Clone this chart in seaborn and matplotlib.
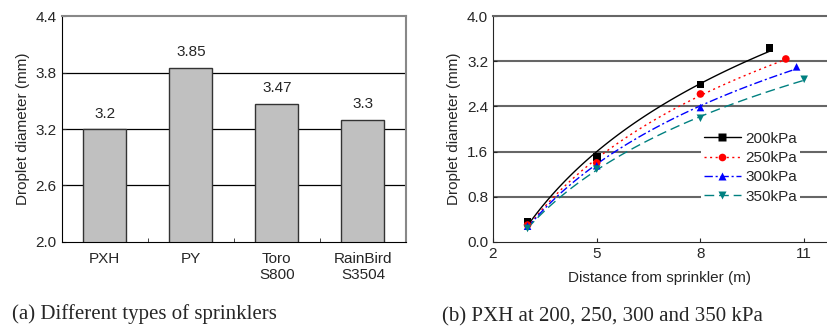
import numpy as np
import pandas as pd
import matplotlib
matplotlib.use("Agg")
import matplotlib.pyplot as plt
import seaborn as sns

# (a) 스프링클러 종류별 평균 물방울 직경
sprinklers = ["PXH", "PY", "Toro\nS800", "RainBird\nS3504"]
diameters = [3.2, 3.85, 3.47, 3.3]

# (b) PXH 압력별 거리-직경
pressures = ["200kPa", "250kPa", "300kPa", "350kPa"]
dist_200 = [3, 5, 8, 10]
diam_200 = [0.35, 1.50, 2.79, 3.43]
dist_250 = [3, 5, 8, 10.47]
diam_250 = [0.30, 1.40, 2.62, 3.24]
dist_300 = [3, 5, 8, 10.78]
diam_300 = [0.28, 1.35, 2.38, 3.10]
dist_350 = [3, 5, 8, 11.0]
diam_350 = [0.24, 1.29, 2.19, 2.88]

sns.set_style("ticks")
plt.rcParams['font.family'] = ['Liberation Sans', 'DejaVu Sans']
plt.rcParams['font.size'] = 11

fig = plt.figure(figsize=(8.27, 3.27), dpi=100)
ax1 = fig.add_axes([0.0746, 0.26, 0.4163, 0.691])
ax2 = fig.add_axes([0.5961, 0.26, 0.4039, 0.691])

# ---- 왼쪽 막대그래프
df_a = pd.DataFrame({"sprinkler": sprinklers, "diameter": diameters})
for y in [2.6, 3.2, 3.8]:
    ax1.axhline(y, color="black", lw=0.9, zorder=0)
sns.barplot(data=df_a, x="sprinkler", y="diameter", color="#c0c0c0",
            edgecolor="#333333", linewidth=1.0, width=0.5, saturation=1,
            ax=ax1, zorder=2)
ax1.bar_label(ax1.containers[0], labels=[f"{v:g}" for v in diameters],
              padding=6, fontsize=11)
ax1.set_xlim(-0.5, 3.5)
ax1.set_ylim(2.0, 4.4)
ax1.set_yticks([2.0, 2.6, 3.2, 3.8, 4.4])
ax1.set_yticklabels(["2.0", "2.6", "3.2", "3.8", "4.4"])
ax1.set_xlabel("")
ax1.set_ylabel("Droplet diameter (mm)", fontsize=11, labelpad=4)
ax1.set_xticks([0.5, 1.5, 2.5], minor=True)
ax1.tick_params(axis="x", which="major", length=0, pad=7, labelsize=11)
ax1.tick_params(axis="x", which="minor", direction="in", length=3)
ax1.tick_params(axis="y", direction="in", length=3, labelsize=11)
for s in ["left", "bottom"]:
    ax1.spines[s].set_color("black")
for s in ["top", "right"]:
    ax1.spines[s].set_color("#888888")
    ax1.spines[s].set_linewidth(1.5)

# ---- 오른쪽 선그래프 (로그 추세선)
series = [
    (dist_200, diam_200, "black", "-", "s"),
    (dist_250, diam_250, "red", (0, (1.5, 2.5)), "o"),
    (dist_300, diam_300, "blue", (0, (6, 2, 1.5, 2)), "^"),
    (dist_350, diam_350, "#008080", (0, (7, 3.5)), "v"),
]
for y in [0.8, 1.6, 2.4, 3.2]:
    ax2.axhline(y, color="#666666", lw=1.5, zorder=0)
for label, (xs, ys, col, ls, mk) in zip(pressures, series):
    coef = np.polyfit(np.log(xs), ys, 1)
    xf = np.linspace(xs[0], xs[-1], 80)
    sns.lineplot(x=xf, y=np.polyval(coef, np.log(xf)), color=col, ls=ls,
                 lw=1.0, ax=ax2, zorder=3)
    sns.scatterplot(x=xs, y=ys, color=col, marker=mk, s=30, edgecolor="none",
                    ax=ax2, zorder=4)
    ax2.plot([], [], color=col, ls=ls, lw=1.0, marker=mk, ms=5.5,
             mec="none", label=label)

ax2.set_xlim(2, 11.66)
ax2.set_ylim(0, 4.0)
ax2.set_xticks([2, 5, 8, 11])
ax2.set_yticks([0.0, 0.8, 1.6, 2.4, 3.2, 4.0])
ax2.set_yticklabels(["0.0", "0.8", "1.6", "2.4", "3.2", "4.0"])
ax2.tick_params(axis="both", direction="in", length=3, labelsize=11)
ax2.set_xlabel("Distance from sprinkler (m)", fontsize=11, labelpad=7)
ax2.set_ylabel("Droplet diameter (mm)", fontsize=11, labelpad=4)
ax2.spines["right"].set_visible(False)
ax2.spines["top"].set_color("#666666")
ax2.spines["top"].set_linewidth(1.5)
leg = ax2.legend(loc="upper left", bbox_to_anchor=(0.6, 0.536), frameon=True,
                 framealpha=1, edgecolor="none", fancybox=False,
                 handlelength=2.4, handletextpad=0.3, labelspacing=0.35,
                 borderpad=0.2, fontsize=11)
leg.set_zorder(5)

# ---- 캡션
fig.text(0.015, 0.025, "(a) Different types of sprinklers",
         family=["Liberation Serif", "DejaVu Serif"], fontsize=15)
fig.text(0.535, 0.018, "(b) PXH at 200, 250, 300 and 350 kPa",
         family=["Liberation Serif", "DejaVu Serif"], fontsize=15)

fig.savefig("out.png", dpi=100)
